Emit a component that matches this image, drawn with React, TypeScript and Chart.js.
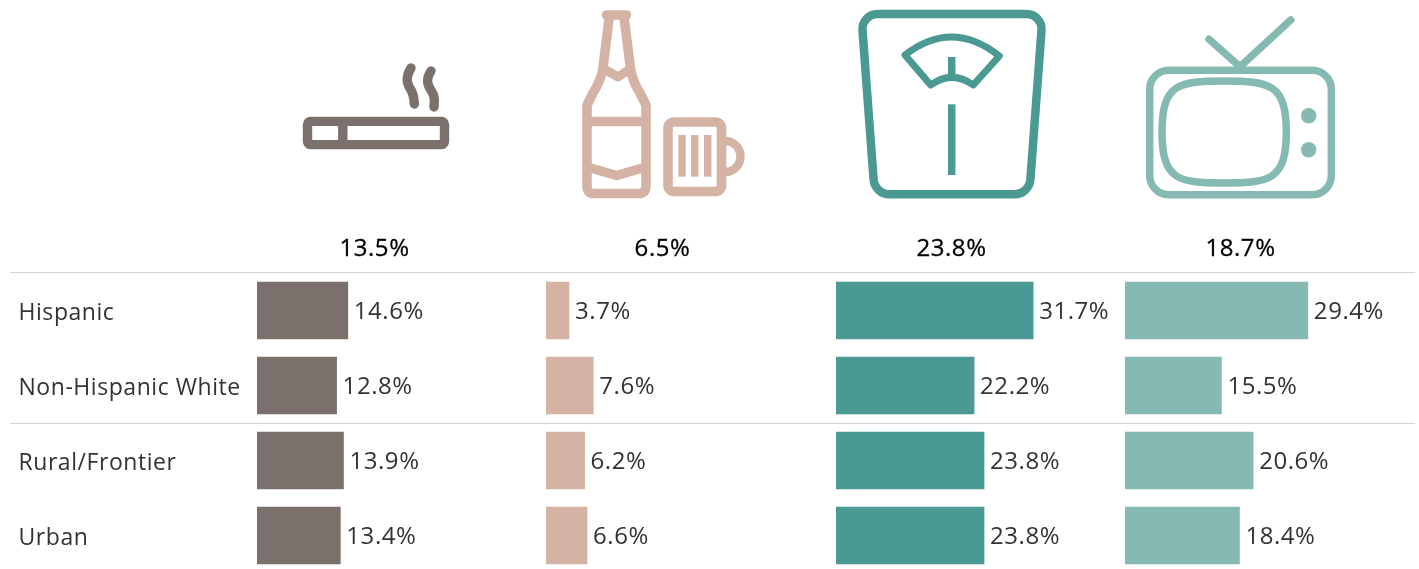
import React, { useEffect, useRef } from "react";
import { Chart, registerables } from "chart.js";

Chart.register(...registerables);

const groups = ["Hispanic", "Non-Hispanic White", "Rural/Frontier", "Urban"];
const smoking = [14.6, 12.8, 13.9, 13.4];
const drinking = [3.7, 7.6, 6.2, 6.6];
const obesity = [31.7, 22.2, 23.8, 23.8];
const screenTime = [29.4, 15.5, 20.6, 18.4];
const totals = [13.5, 6.5, 23.8, 18.7];
const colors = ["#7b706c", "#d5b3a4", "#4a9a93", "#85bab2"];

const series = [smoking, drinking, obesity, screenTime];
const lefts = [0, 546, 836, 1125];
const widths = [546, 290, 289, 294];
const plotLefts = [257, 546, 836, 1125];
const headerX = [374, 662, 951, 1240];
const PX_PER_UNIT = 6.22;
const FONT = '"Open Sans", sans-serif';

type Ctx = CanvasRenderingContext2D;

function line(c: Ctx, pts: number[][]) {
  c.beginPath();
  pts.forEach((p, i) => (i ? c.lineTo(p[0], p[1]) : c.moveTo(p[0], p[1])));
  c.stroke();
}

function roundRect(c: Ctx, x: number, y: number, w: number, h: number, r: number) {
  c.beginPath();
  c.roundRect(x, y, w, h, r);
  c.stroke();
}

function cigarette(c: Ctx) {
  c.lineWidth = 9.4;
  c.lineJoin = "round";
  roundRect(c, 307.5, 121.4, 137, 23.2, 3);
  line(c, [[342.8, 119], [342.8, 147]]);
  c.lineWidth = 9.4;
  c.lineCap = "round";
  c.beginPath();
  c.moveTo(411, 68);
  c.bezierCurveTo(405, 78, 407, 84, 411, 90);
  c.bezierCurveTo(414, 95, 414, 100, 414.3, 104);
  c.stroke();
  c.beginPath();
  c.moveTo(431, 71);
  c.bezierCurveTo(425, 80, 428, 86, 432, 92);
  c.bezierCurveTo(436, 98, 434, 103, 434, 107);
  c.stroke();
}

function beer(c: Ctx) {
  c.lineWidth = 9.6;
  c.lineJoin = "round";
  c.lineCap = "round";
  c.beginPath();
  c.moveTo(609.3, 17);
  c.lineTo(602.7, 70);
  c.quadraticCurveTo(600, 82, 593, 93);
  c.lineTo(587, 105);
  c.lineTo(587, 186);
  c.quadraticCurveTo(587, 193.5, 594, 193.5);
  c.lineTo(639, 193.5);
  c.quadraticCurveTo(646, 193.5, 646, 186);
  c.lineTo(646, 105);
  c.lineTo(640, 93);
  c.quadraticCurveTo(633, 82, 630.7, 70);
  c.lineTo(624, 17);
  c.stroke();
  line(c, [[606.5, 15], [626.5, 15]]);
  c.lineWidth = 9;
  c.lineCap = "butt";
  line(c, [[604, 69], [618, 77], [630, 69]]);
  c.lineWidth = 9.6;
  line(c, [[587, 121.5], [646, 121.5]]);
  line(c, [[587, 167], [616.7, 175.5], [646, 167]]);
  roundRect(c, 668, 122, 53.5, 69.5, 6);
  c.lineWidth = 7.4;
  line(c, [[682, 135], [682, 176.7]]);
  line(c, [[694.7, 135], [694.7, 176.7]]);
  line(c, [[707.7, 135], [707.7, 176.7]]);
  c.lineWidth = 8.5;
  c.beginPath();
  c.moveTo(722, 141);
  c.lineTo(725, 141);
  c.arc(725, 156.5, 15.5, -Math.PI / 2, Math.PI / 2);
  c.lineTo(722, 172);
  c.stroke();
}

function bathroomScale(c: Ctx) {
  c.lineWidth = 8.5;
  c.lineJoin = "round";
  c.beginPath();
  c.moveTo(950, 14);
  c.arcTo(1042.7, 14, 1029.3, 194.3, 15);
  c.arcTo(1029.3, 194.3, 874.7, 194.3, 16);
  c.arcTo(874.7, 194.3, 861.3, 14, 16);
  c.arcTo(861.3, 14, 950, 14, 15);
  c.closePath();
  c.stroke();
  c.lineWidth = 7;
  c.beginPath();
  c.moveTo(905, 55);
  c.quadraticCurveTo(952, 18.5, 999.3, 56);
  c.lineTo(973.3, 85);
  c.quadraticCurveTo(952, 69.6, 930.7, 85);
  c.closePath();
  c.stroke();
  c.lineWidth = 7.5;
  c.lineCap = "butt";
  line(c, [[951.7, 57], [951.7, 78]]);
  line(c, [[951.7, 104.3], [951.7, 175]]);
}

function television(c: Ctx) {
  c.lineWidth = 7.5;
  c.lineJoin = "round";
  roundRect(c, 1149.7, 70.3, 181.6, 124.4, 19);
  c.beginPath();
  c.moveTo(1224, 81);
  c.bezierCurveTo(1270, 81, 1286.3, 84, 1286.3, 132);
  c.bezierCurveTo(1286.3, 180, 1270, 183, 1224, 183);
  c.bezierCurveTo(1178, 183, 1162, 180, 1162, 132);
  c.bezierCurveTo(1162, 84, 1178, 81, 1224, 81);
  c.closePath();
  c.stroke();
  c.lineCap = "round";
  line(c, [[1209, 39.3], [1240, 66.7], [1290.7, 20]]);
  c.beginPath();
  c.arc(1308.7, 115.7, 7.7, 0, Math.PI * 2);
  c.fill();
  c.beginPath();
  c.arc(1308.7, 149.7, 7.7, 0, Math.PI * 2);
  c.fill();
}

const icons = [cigarette, beer, bathroomScale, television];

function makePanelPlugin(i: number) {
  return {
    id: "panel" + i,
    beforeDraw(chart: any) {
      const c: Ctx = chart.ctx;
      (c as any).letterSpacing = "0.55px";
      c.save();
      c.strokeStyle = "#d4d4d4";
      c.lineWidth = 1;
      const from = i === 0 ? 10 : 0;
      const to = i === 3 ? 290 : widths[i];
      line(c, [[from, 272.5], [to, 272.5]]);
      line(c, [[from, 423.5], [to, 423.5]]);
      c.restore();
      c.save();
      c.translate(-lefts[i], 0);
      c.strokeStyle = colors[i];
      c.fillStyle = colors[i];
      (c as any).filter = "blur(0.4px)";
      icons[i](c);
      c.restore();
      c.save();
      c.font = `400 24px ${FONT}`;
      c.fillStyle = "#000";
      c.strokeStyle = "#000";
      c.lineWidth = 0.3;
      c.textAlign = "center";
      c.textBaseline = "middle";
      const label = totals[i].toFixed(1) + "%";
      c.fillText(label, headerX[i] + 0.5 - lefts[i], 249);
      c.strokeText(label, headerX[i] + 0.5 - lefts[i], 249);
      c.restore();
    },
    afterDatasetsDraw(chart: any) {
      const c: Ctx = chart.ctx;
      c.save();
      c.font = `400 24px ${FONT}`;
      c.fillStyle = "#333";
      c.textAlign = "left";
      c.textBaseline = "middle";
      chart.getDatasetMeta(0).data.forEach((bar: any, k: number) => {
        c.fillText(series[i][k].toFixed(1) + "%", bar.x + 6, bar.y + 1.5);
      });
      c.restore();
    },
  };
}

export default function App() {
  const refs = useRef<(HTMLCanvasElement | null)[]>([]);

  useEffect(() => {
    const charts = series.map((values, i) => {
      const plotWidth = lefts[i] + widths[i] - plotLefts[i];
      return new Chart(refs.current[i] as HTMLCanvasElement, {
        type: "bar",
        data: {
          labels: groups,
          datasets: [{ data: values, backgroundColor: colors[i], barThickness: 57, borderWidth: 0 }],
        },
        plugins: [makePanelPlugin(i)],
        options: {
          indexAxis: "y",
          animation: false,
          responsive: false,
          devicePixelRatio: 1,
          layout: { padding: { top: 273, left: i === 0 ? 18.5 : 0, right: 0, bottom: 0 } },
          plugins: { legend: { display: false }, tooltip: { enabled: false }, title: { display: false } },
          scales: {
            x: { display: false, min: 0, max: plotWidth / PX_PER_UNIT },
            y: {
              display: i === 0,
              grid: { display: false },
              border: { display: false },
              afterFit: (s: any) => {
                if (i === 0) s.width = 238.5;
                s.paddingTop = 0;
                s.paddingBottom = 0;
              },
              ticks: {
                crossAlign: "far",
                autoSkip: false,
                color: "#333",
                padding: 0,
                labelOffset: 2.5,
                font: { family: FONT, size: 23, weight: "400" },
              },
            },
          },
        },
      } as any);
    });
    return () => charts.forEach((ch) => ch.destroy());
  }, []);

  return (
    <div style={{ position: "absolute", left: 0, top: 0, width: 1419, height: 569, overflow: "hidden", background: "#fff" }}>
      {series.map((_, i) => (
        <canvas
          key={i}
          ref={(el) => {
            refs.current[i] = el;
          }}
          width={widths[i]}
          height={573}
          style={{ position: "absolute", left: lefts[i], top: 0, display: "block" }}
        />
      ))}
    </div>
  );
}
